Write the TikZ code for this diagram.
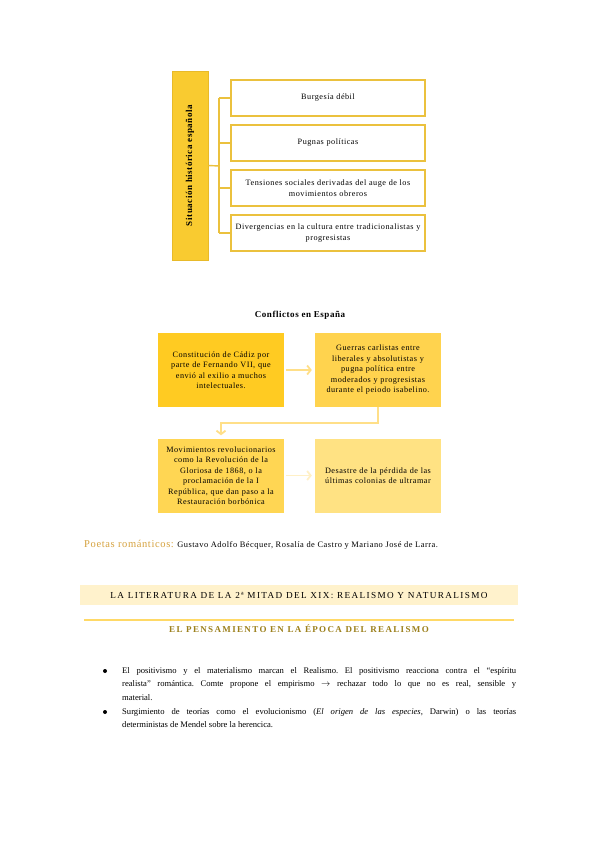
\documentclass[tikz,border=0pt]{standalone}
\usepackage{fontspec}
\setmainfont{Liberation Serif}[LetterSpace=6]
\newfontfamily\plainfont{Liberation Serif}
\newfontfamily\spacedfont[LetterSpace=15]{Liberation Serif}
\usetikzlibrary{arrows.meta}
\definecolor{sitfill}{HTML}{F9CB30}
\definecolor{sitedge}{HTML}{E8BA2A}
\definecolor{gold}{HTML}{EBC13E}
\definecolor{confA}{HTML}{FFCB22}
\definecolor{confB}{HTML}{FFD34E}
\definecolor{confC}{HTML}{FFD653}
\definecolor{confD}{HTML}{FFE283}
\definecolor{paleA}{HTML}{FFDF88}
\definecolor{paleB}{HTML}{FFF0C6}
\definecolor{banner}{HTML}{FFF2CC}
\definecolor{rule}{HTML}{FFD966}
\definecolor{olive}{HTML}{9C801C}
\definecolor{poet}{HTML}{D6A23E}
\begin{document}
\begin{tikzpicture}[
  x=1pt,y=-1pt,every node/.style={font=\fontsize{8.2}{10.5}\selectfont,inner sep=0pt},
  itembox/.style={draw=gold,line width=1.4pt,fill=white,minimum width=194,
    minimum height=36,align=center,text width=192},
  confbox/.style={minimum width=126,minimum height=74,align=center,text width=120},
  flow/.style={line width=1.8pt,-{Straight Barb[length=3.5pt,width=9pt]}},
  bulletdot/.style={circle,fill=black,minimum size=4pt}]
  \useasboundingbox[fill=white] (0,0) rectangle (599,848);

  % situacion historica: one tall box, four items
  \node[draw=sitedge,fill=sitfill,line width=0.8pt,minimum width=36,minimum height=189]
    (sit) at (190,165.5) {};
  \node[rotate=90,font=\fontsize{9}{10}\selectfont\bfseries] at (sit.center)
    {Situación histórica española};
  \node[itembox] (b1) at (328,98) {Burgesía débil};
  \node[itembox] (b2) at (328,143) {Pugnas políticas};
  \node[itembox] (b3) at (328,188) {Tensiones sociales derivadas del auge de los\\movimientos obreros};
  \node[itembox] (b4) at (328,233) {Divergencias en la cultura entre tradicionalistas y\\progresistas};
  \coordinate (spine) at (219,166);
  \draw[gold,line width=1.4pt] (sit.east) -- (spine);
  \draw[gold,line width=1.4pt] (spine |- b1.west) -- (spine |- b4.west);
  \foreach \i in {1,...,4}
    \draw[gold,line width=1.4pt] (spine |- b\i.west) -- (b\i.west);

  % conflictos en Espana
  \node[font=\fontsize{9}{10}\selectfont\bfseries] (ctitle) at (300,315) {Conflictos en España};
  \node[confbox,fill=confA] (ca) at (221,370) {Constitución de Cádiz por\\parte de Fernando VII, que\\envió al exilio a muchos\\intelectuales.};
  \node[confbox,fill=confB] (cb) at (378,370) {Guerras carlistas entre\\liberales y absolutistas y\\pugna política entre\\moderados y progresistas\\durante el peiodo isabelino.};
  \node[confbox,fill=confC] (cc) at (221,475.5) {Movimientos revolucionarios\\como la Revolución de la\\Gloriosa de 1868, o la\\proclamación de la I\\República, que dan paso a la\\Restauración borbónica};
  \node[confbox,fill=confD] (cd) at (378,475.5) {Desastre de la pérdida de las\\últimas colonias de ultramar};
  \draw[flow,paleA,shorten <=2pt,shorten >=3pt] (ca.east) -- (cb.west);
  \draw[flow,paleA,shorten >=3pt] (cb.south) -- ++(0,16) -| (cc.north);
  \draw[flow,paleB,shorten <=2pt,shorten >=3pt] (cc.east) -- (cd.west);

  % poetas
  \node[anchor=west] (poetas) at (84,545) {{\fontsize{10.5}{11}\selectfont\color{poet}Poetas románticos:}
    \fontsize{8.4}{10}\selectfont Gustavo Adolfo Bécquer, Rosalía de Castro y Mariano José de Larra.};

  % realismo
  \node[fill=banner,minimum width=438,minimum height=20] (band) at (299,595)
    {\spacedfont\fontsize{9.2}{10}\selectfont LA LITERATURA DE LA 2ª MITAD DEL XIX: REALISMO Y NATURALISMO};
  \coordinate (ruleL) at (84,620);
  \coordinate (ruleR) at (514,620);
  \draw[rule,line width=1.6pt] (ruleL) -- (ruleR);
  \node[text=olive] (pens) at (299,629)
    {\spacedfont\bfseries\fontsize{9}{10}\selectfont EL PENSAMIENTO EN LA ÉPOCA DEL REALISMO};

  % viñetas
  \node[bulletdot] (dot1) at (105,671) {};
  \node[anchor=north west,text width=394,align=justify,
    font=\plainfont\frenchspacing\fontsize{8.6}{13.3}\selectfont] (txt1) at (122,667.5)
    {El positivismo y el materialismo marcan el Realismo. El positivismo reacciona contra el “espíritu\linebreak
     realista” romántica. Comte propone el empirismo $\rightarrow$ rechazar todo lo que no es real, sensible y\linebreak
     material.};
  \node[bulletdot] (dot2) at (105,712) {};
  \node[anchor=north west,text width=394,align=justify,
    font=\plainfont\frenchspacing\fontsize{8.6}{13.3}\selectfont] (txt2) at (122,708.5)
    {Surgimiento de teorías como el evolucionismo (\textit{El origen de las especies}, Darwin) o las teorías\linebreak
     deterministas de Mendel sobre la herencica.};
\end{tikzpicture}
\end{document}
